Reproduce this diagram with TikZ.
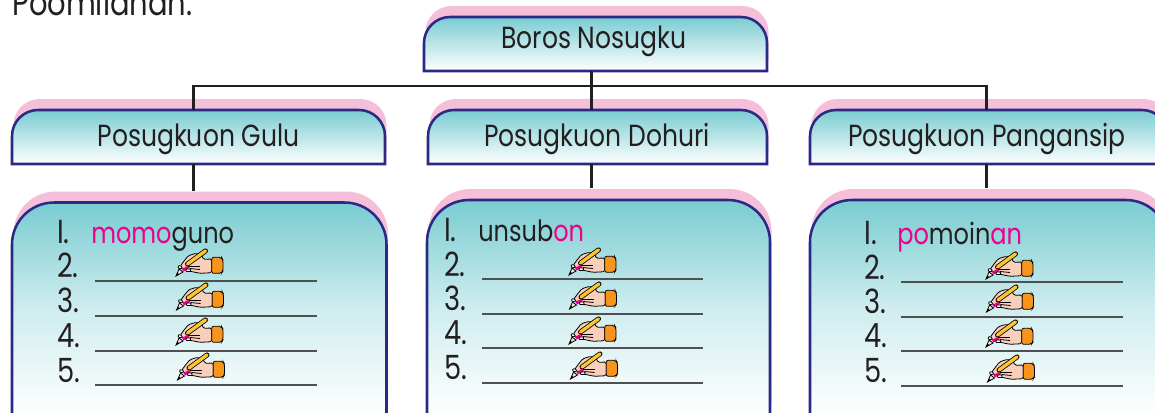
\documentclass[tikz,border=0pt]{standalone}
\usepackage{fontspec}
\setmainfont[FakeStretch=0.82]{Poppins}
\definecolor{navyb}{HTML}{2A2A86}
\definecolor{pinkb}{HTML}{F6BFD9}
\definecolor{tealb}{HTML}{79CCD1}
\definecolor{inkb}{HTML}{231F20}
\definecolor{magb}{HTML}{EC008C}
\definecolor{ruleb}{HTML}{505050}
\definecolor{orangeb}{HTML}{F7941D}
\definecolor{yellowb}{HTML}{FDC52F}
\definecolor{skinb}{HTML}{F8CFBA}
\tikzset{
  linkline/.style={draw=inkb,line width=2.1pt},
  boxedge/.style={draw=navyb,line width=1.9pt,top color=tealb,bottom color=white},
  listedge/.style={draw=navyb,line width=1.9pt,top color=tealb,bottom color=white,middle color=tealb!36!white},
  boxshadow/.style={fill=pinkb},
  labeltext/.style={font=\fontsize{22.9}{26}\selectfont,text=inkb,anchor=base,inner sep=0pt},
  titletext/.style={font=\fontsize{26.5}{30}\selectfont,text=inkb,anchor=base west,inner sep=0pt},
  listtext/.style={font=\fontsize{22}{26}\selectfont,text=inkb,anchor=base west,inner sep=0pt},
  numtext/.style={font=\fontsize{25}{28}\selectfont,text=inkb,anchor=base west,inner sep=0pt},
  ruleline/.style={draw=ruleb,line width=1.5pt},
  inkthin/.style={draw=black,line width=.6pt},
  handpen/.pic={
    \path[inkthin,fill=skinb,rounded corners=1.2] (35.7,10) -- (27.3,10.3) -- (25.7,6) -- (20,4.3) -- (12.3,6.7) -- (6.7,13.7) -- (4,17.7) -- (11.3,21.7) -- (24,24.3) -- (35.7,23.7) -- cycle;
    \draw[black,line width=3.7pt,line cap=round] (11.5,15) -- (29.5,1.9);
    \draw[yellowb,line width=2.5pt,line cap=round] (11.5,15) -- (29.5,1.9);
    \path[inkthin,fill=orangeb,rounded corners=1.5] (35.7,8.3) -- (45.5,8.3) -- (47,11) -- (47,22) -- (45.5,24.3) -- (35.7,24.3) -- cycle;
    \path[inkthin,fill=skinb!60!white] (0,27) -- (3,20) -- (7,23) -- cycle;
    \fill[black] (0,27) -- (1.5,23.5) -- (3,25) -- cycle;
    \path[fill=magb] (6,20) -- (12,16.5) -- (13.5,19) -- (7.5,22.5) -- cycle;
    \path[inkthin,fill=white,rounded corners=.6] (2.5,16.5) -- (6,17.5) -- (5.5,20) -- (2,19) -- cycle;
    \path[inkthin,fill=white,rounded corners=.6] (10,20) -- (14.5,20) -- (14.5,22.5) -- (10,22.5) -- cycle;
    \draw[inkthin] (12,17.5) -- (24,17.5);
    \draw[inkthin] (14,19.5) -- (24,20.5);
  },
}
\newcommand{\topbox}[7][boxedge]{% style name x1 y1 x2 y2 r
  \path[boxshadow,shift={(1.5,-11)}] (#3,#6) -- (#3,{#4+#7}) arc[start angle=180,end angle=270,radius=#7] -- ({#5-#7},#4) arc[start angle=270,end angle=360,radius=#7] -- (#5,#6) -- cycle;
  \path[#1] (#3,#6) -- (#3,{#4+#7}) arc[start angle=180,end angle=270,radius=#7] -- ({#5-#7},#4) arc[start angle=270,end angle=360,radius=#7] -- (#5,#6) -- cycle;
  \node[inner sep=0pt,minimum width={(#5-#3)*0.75pt},minimum height={(#6-#4)*0.75pt}] (#2) at ({(#3+#5)/2},{(#4+#6)/2}) {};
}
\begin{document}
\begin{tikzpicture}[x=0.75pt,y=-0.75pt]
\useasboundingbox (0,0) rectangle (1155,412);
\clip (0,0) rectangle (1155,412);
\node[titletext] (title) at (12,15) {Poomilanan:};

\topbox{boros}{424}{17}{767}{71}{26}
\topbox{gulu}{12}{110}{385}{164}{26}
\topbox{dohuri}{428}{110}{767}{164}{26}
\topbox{pang}{810}{110}{1168}{164}{26}
\topbox[listedge]{gululist}{12}{202.5}{386.5}{415}{42}
\topbox[listedge]{dohurilist}{427}{200}{770}{415}{42}
\topbox[listedge]{panglist}{810}{200}{1168}{415}{42}

\coordinate (trunk) at (591.5,86);
\coordinate (leftdrop) at (193.5,86);
\coordinate (rightdrop) at (986.5,86);
\draw[linkline] (trunk |- boros.south) -- (trunk |- dohuri.north);
\draw[linkline] (leftdrop |- gulu.north) -- (leftdrop) -- (rightdrop) -- (rightdrop |- pang.north);
\draw[linkline] (leftdrop |- gulu.south) -- ([yshift=8.6pt]leftdrop |- gululist.north);
\draw[linkline] (trunk |- dohuri.south) -- ([yshift=8.6pt]trunk |- dohurilist.north);
\draw[linkline] (rightdrop |- pang.south) -- ([yshift=8.6pt]rightdrop |- panglist.north);

\node[labeltext] (borostext) at (594,48) {Boros Nosugku};
\node[labeltext] (gulutext) at (198.5,146) {Posugkuon Gulu};
\node[labeltext] (dohuritext) at (597,146) {Posugkuon Dohuri};
\node[labeltext] (pangtext) at (987,146) {Posugkuon Pangansip};

% column 1
\node[numtext] (ga) at (57,243) {I.};
\node[listtext] (gw) at (91,243) {\textcolor{magb}{momo}guno};
\foreach \n/\by/\ry/\hx/\hy in {2/277/281/176/249,3/312/316/176.5/283,4/347/351/176/318,5/382/384.5/177.5/353}{
  \node[numtext] (g\n) at (57,\by) {\n.};
  \draw[ruleline] (95,\ry) -- (317,\ry);
  \pic at (\hx,\hy) {handpen};
}
% column 2
\node[numtext] (da) at (444,241.7) {I.};
\node[listtext] (dw) at (478,241.7) {unsub\textcolor{magb}{on}};
\foreach \n/\by/\ry/\hx/\hy in {2/276/279/569/248,3/310/314/569.5/282,4/344/348/569/317,5/379/382.5/570.5/352}{
  \node[numtext] (d\n) at (444,\by) {\n.};
  \draw[ruleline] (481.7,\ry) -- (703,\ry);
  \pic at (\hx,\hy) {handpen};
}
% column 3
\node[numtext] (pa) at (864,244) {I.};
\node[listtext] (pw) at (897,244) {\textcolor{magb}{po}moin\textcolor{magb}{an}};
\foreach \n/\by/\ry/\hx/\hy in {2/279/282/986/252,3/313.5/317/986.5/285,4/347.5/351/986/320,5/382/386/987.5/355}{
  \node[numtext] (p\n) at (864,\by) {\n.};
  \draw[ruleline] (901,\ry) -- (1123,\ry);
  \pic at (\hx,\hy) {handpen};
}
\end{tikzpicture}
\end{document}
